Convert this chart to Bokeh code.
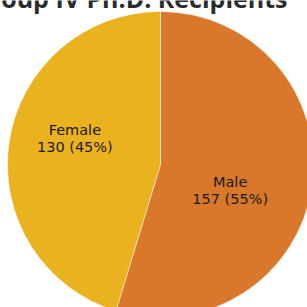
import numpy as np
from bokeh.plotting import figure
from bokeh.models import ColumnDataSource, Range1d
from bokeh.core.properties import value
from bokeh.embed import file_html
from bokeh.resources import INLINE

# ---- data ----
categories = ["Male", "Female"]
counts = [157, 130]
colors = ["#D9772A", "#EBB21F"]
title_text = "Group IV Ph.D. Recipients"

W = H = 307
cx, cy, R = 160, 143, 153

vals = np.array(counts, dtype=float)
frac = vals / vals.sum()
ends_cum = np.cumsum(frac)
starts_cum = ends_cum - frac
# clockwise from 12 o'clock
start_angle = np.pi / 2 - 2 * np.pi * starts_cum
end_angle = np.pi / 2 - 2 * np.pi * ends_cum
mid = (start_angle + end_angle) / 2 - np.radians(10)
lr = 0.535 * R
lx = cx + lr * np.cos(mid)
ly = cy + lr * np.sin(mid)
pct = np.round(frac * 100).astype(int)
labels = [f"{c}\n{v} ({p}%)" for c, v, p in zip(categories, counts, pct)]

src = ColumnDataSource(dict(start=start_angle, end=end_angle, color=colors,
                            lx=lx, ly=ly, label=labels))

p = figure(width=W, height=H, x_range=Range1d(0, W), y_range=Range1d(0, H),
           output_backend="svg", toolbar_location=None, min_border=0)
p.axis.visible = False
p.grid.visible = False
p.outline_line_color = None
p.background_fill_color = "white"

p.wedge(x=cx, y=cy, radius=R, start_angle="start", end_angle="end",
        direction="clock", fill_color="color", line_color="white",
        line_alpha=0.6, line_width=0.8, source=src)

p.text(x="lx", y="ly", text="label", source=src, text_align="center",
       text_baseline="middle", text_font=value("DejaVu Sans"),
       text_font_size="14.5px", text_color="#1a1a1a", text_line_height=1.08,
       x_offset=-8)

p.text(x=[287], y=[H + 3], text=[title_text], text_align="right",
       text_baseline="alphabetic", text_font=value("Open Sans"),
       text_font_style="bold", text_font_size="25px", text_color="#2b2b2b")

open("out.html", "w").write(file_html(p, INLINE))
